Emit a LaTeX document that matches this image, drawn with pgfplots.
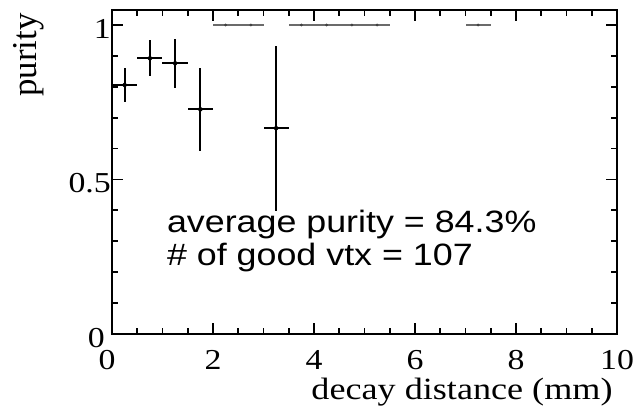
\documentclass[border=0pt]{standalone}
\usepackage{fontspec}
\setmainfont{Liberation Serif}
\newfontfamily\sansfont{Liberation Sans}[FakeStretch=1.16]
\newfontfamily\widefont{Liberation Serif}[FakeStretch=1.17]
\usepackage{pgfplots}
\pgfplotsset{compat=1.18}
\usepackage{pgfplotstable}

% purity per 0.5 mm bin of decay distance
\pgfplotstableread{
x    ex   y     ey
0.25 0.25 0.806 0.054
0.75 0.25 0.892 0.058
1.25 0.25 0.876 0.080
1.75 0.25 0.727 0.135
3.25 0.25 0.666 0.267
}\purity

% bins where every vertex is good (purity 1, no spread)
\pgfplotstableread{
x    ex   y ey
2.25 0.25 1 0
2.75 0.25 1 0
3.75 0.25 1 0
4.25 0.25 1 0
4.75 0.25 1 0
5.25 0.25 1 0
7.25 0.25 1 0
}\fullbins

\begin{document}
\begin{tikzpicture}
\begin{axis}[
  at={(0,0)}, anchor=south west,
  scale only axis, width=505bp, height=324bp,
  xmin=0, xmax=10, ymin=0, ymax=1.0485,
  xtick={0,2,...,10}, ytick={0,0.5,1},
  % the two zeros at the origin are pushed apart
  xticklabels={0\kern10bp,2,4,6,8,10},
  yticklabels={0\kern6bp,0.5,1},
  minor x tick num=3, minor y tick num=4,
  tick align=inside, major tick length=11bp, minor tick length=6bp,
  axis line style={line width=2.5bp},
  every tick/.style={black, line width=1.8bp},
  ticklabel style={font=\widefont\fontsize{29}{29}\selectfont, inner sep=0pt},
  xticklabel style={anchor=north, yshift=-16bp},
  yticklabel style={anchor=east, xshift=-1bp, yshift=-4bp},
  clip=false,
]
\addplot[only marks, mark=none,
  error bars/.cd, x dir=both, x explicit, y dir=both, y explicit,
  error mark=none, error bar style={line width=2.2bp, black}]
  table[x=x, y=y, x error=ex, y error=ey] {\purity};
\addplot[only marks, mark=*, mark size=1.2bp, black!75,
  error bars/.cd, x dir=both, x explicit, y dir=both, y explicit,
  error mark=none, error bar style={line width=2.8bp, black!58}]
  table[x=x, y=y, x error=ex, y error=ey] {\fullbins};
\node[anchor=base west, font=\sansfont\fontsize{31}{31}\selectfont]
  at (axis cs:1.02,0.33) {average purity = 84.3\%};
\node[anchor=base west, font=\sansfont\fontsize{31}{31}\selectfont]
  at (axis cs:1.02,0.223) {\# of good vtx = 107};
\end{axis}
\node[anchor=base east, font=\widefont\fontsize{31}{31}\selectfont]
  at (504bp,-65bp) {decay distance (mm)};
\node[rotate=90, anchor=base east, font=\fontsize{35}{35}\selectfont]
  at (-75bp,324bp) {purity};
\path[use as bounding box] (-112bp,-79bp) rectangle (523bp,334bp);
\end{tikzpicture}
\end{document}
